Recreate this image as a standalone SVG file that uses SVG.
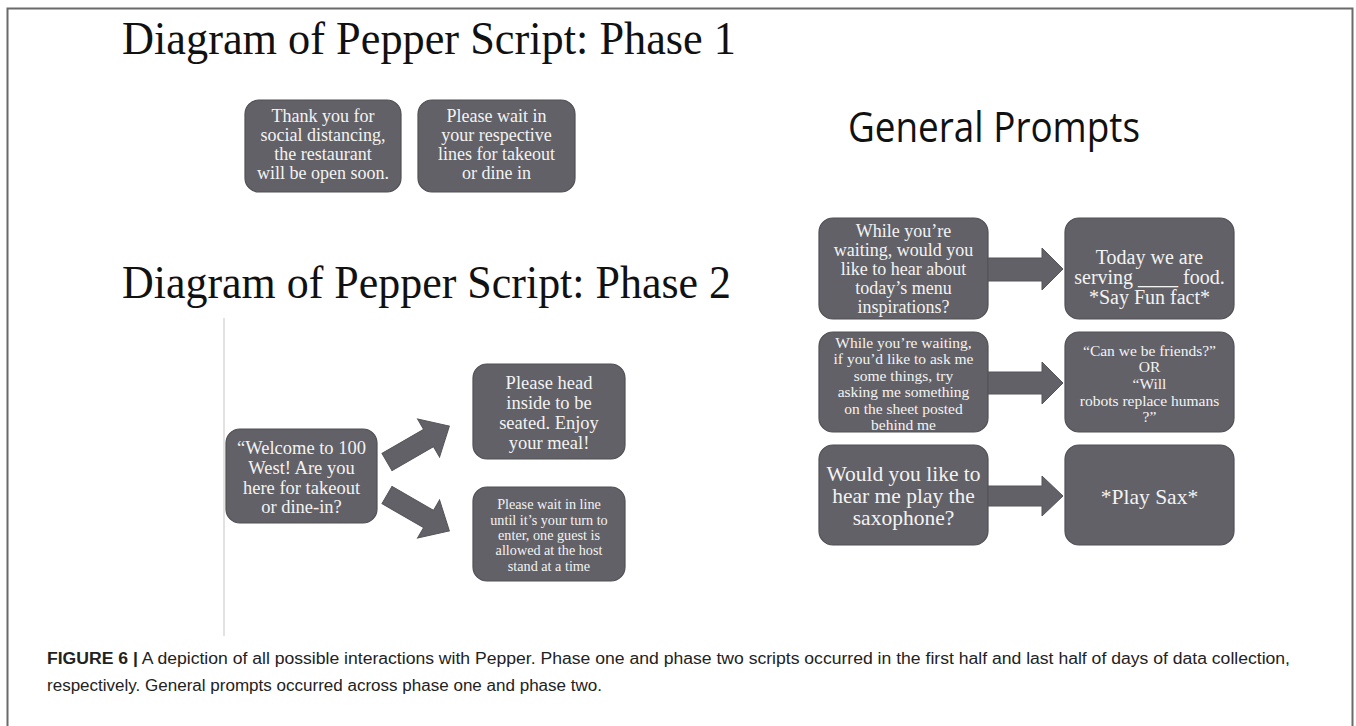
<svg xmlns="http://www.w3.org/2000/svg" width="1356" height="726" viewBox="0 0 1356 726">
<style>
.box{fill:#626167;stroke:#505055;stroke-width:1.2}
.bt{font-family:"Liberation Serif","DejaVu Serif",serif;fill:#f3f3f3;text-anchor:middle}
.arr{fill:#626167;stroke:#55555a;stroke-width:1}
.title{font-family:"Liberation Serif",serif;fill:#111}
.cap{font-family:"Liberation Sans",Arial,sans-serif;fill:#222;font-size:16px}
</style>
<rect width="1356" height="726" fill="#fff"/>
<path d="M7.5,726 V8.5 H1352.5 V726" fill="none" stroke="#6a6a6a" stroke-width="2"/>
<line x1="224" y1="318" x2="224" y2="636" stroke="#e2e2e2" stroke-width="2"/>

<text class="title" x="122" y="54" font-size="46" textLength="614" lengthAdjust="spacingAndGlyphs">Diagram of Pepper Script: Phase 1</text>
<text class="title" x="122" y="298" font-size="46" textLength="609" lengthAdjust="spacingAndGlyphs">Diagram of Pepper Script: Phase 2</text>
<text x="848" y="142" font-family="'Open Sans','Noto Sans',sans-serif" font-size="42" fill="#111" textLength="292" lengthAdjust="spacingAndGlyphs">General Prompts</text>

<g id="p1a">
<rect class="box" x="245" y="100" width="156" height="92" rx="14"/>
<text class="bt" font-size="18"><tspan x="323" y="122">Thank you for</tspan><tspan x="323" y="141">social distancing,</tspan><tspan x="323" y="160">the restaurant</tspan><tspan x="323" y="179">will be open soon.</tspan></text>
</g>
<g id="p1b">
<rect class="box" x="418" y="100" width="157" height="92" rx="14"/>
<text class="bt" font-size="18"><tspan x="496.5" y="122">Please wait in</tspan><tspan x="496.5" y="141">your respective</tspan><tspan x="496.5" y="160">lines for takeout</tspan><tspan x="496.5" y="179">or dine in</tspan></text>
</g>

<g id="p2welcome">
<rect class="box" x="226" y="429" width="151" height="94" rx="14"/>
<text class="bt" font-size="18.5"><tspan x="301.5" y="454">“Welcome to 100</tspan><tspan x="301.5" y="474">West! Are you</tspan><tspan x="301.5" y="494">here for takeout</tspan><tspan x="301.5" y="513">or dine-in?</tspan></text>
</g>
<g id="p2head">
<rect class="box" x="473" y="364" width="152" height="95" rx="14"/>
<text class="bt" font-size="18.5"><tspan x="549" y="389">Please head</tspan><tspan x="549" y="409">inside to be</tspan><tspan x="549" y="429">seated. Enjoy</tspan><tspan x="549" y="449">your meal!</tspan></text>
</g>
<g id="p2wait">
<rect class="box" x="473" y="487" width="152" height="94" rx="14"/>
<text class="bt" font-size="14.2"><tspan x="549" y="509">Please wait in line</tspan><tspan x="549" y="525">until it’s your turn to</tspan><tspan x="549" y="540">enter, one guest is</tspan><tspan x="549" y="555">allowed at the host</tspan><tspan x="549" y="571">stand at a time</tspan></text>
</g>

<g id="g1l">
<rect class="box" x="819" y="218" width="169" height="101" rx="14"/>
<text class="bt" font-size="18"><tspan x="903.5" y="237">While you’re</tspan><tspan x="903.5" y="256">waiting, would you</tspan><tspan x="903.5" y="275">like to hear about</tspan><tspan x="903.5" y="294">today’s menu</tspan><tspan x="903.5" y="313">inspirations?</tspan></text>
</g>
<g id="g1r">
<rect class="box" x="1065" y="218" width="169" height="101" rx="14"/>
<text class="bt" font-size="20"><tspan x="1149.5" y="264">Today we are</tspan><tspan x="1149.5" y="284">serving ____ food.</tspan><tspan x="1149.5" y="304">*Say Fun fact*</tspan></text>
</g>
<g id="g2l">
<rect class="box" x="819" y="332" width="169" height="100" rx="14"/>
<text class="bt" font-size="15.5"><tspan x="903.5" y="348">While you’re waiting,</tspan><tspan x="903.5" y="364">if you’d like to ask me</tspan><tspan x="903.5" y="381">some things, try</tspan><tspan x="903.5" y="397">asking me something</tspan><tspan x="903.5" y="414">on the sheet posted</tspan><tspan x="903.5" y="430">behind me</tspan></text>
</g>
<g id="g2r">
<rect class="box" x="1065" y="332" width="169" height="100" rx="14"/>
<text class="bt" font-size="15.5"><tspan x="1149.5" y="356">“Can we be friends?”</tspan><tspan x="1149.5" y="372">OR</tspan><tspan x="1149.5" y="389">“Will</tspan><tspan x="1149.5" y="406">robots replace humans</tspan><tspan x="1149.5" y="422">?”</tspan></text>
</g>
<g id="g3l">
<rect class="box" x="819" y="445" width="169" height="100" rx="14"/>
<text class="bt" font-size="21.5"><tspan x="903.5" y="481">Would you like to</tspan><tspan x="903.5" y="503">hear me play the</tspan><tspan x="903.5" y="525">saxophone?</tspan></text>
</g>
<g id="g3r">
<rect class="box" x="1065" y="445" width="169" height="100" rx="14"/>
<text class="bt" font-size="21.5"><tspan x="1149.5" y="504">*Play Sax*</tspan></text>
</g>

<g id="connectors">
<polygon class="arr" transform="translate(387,462) rotate(-30)" points="0,-10 48,-10 48,-22 72,0 48,22 48,10 0,10"/>
<polygon class="arr" transform="translate(387,495) rotate(30)" points="0,-10 48,-10 48,-22 72,0 48,22 48,10 0,10"/>
<polygon class="arr" points="988,258 1042,258 1042,248 1063,269 1042,290 1042,281 988,281"/>
<polygon class="arr" points="988,372 1042,372 1042,362 1063,383 1042,404 1042,394 988,394"/>
<polygon class="arr" points="988,486 1042,486 1042,476 1063,496 1042,516 1042,506 988,506"/>
</g>

<text class="cap" x="47" y="664" textLength="1243" lengthAdjust="spacingAndGlyphs"><tspan font-weight="bold">FIGURE 6 |</tspan> A depiction of all possible interactions with Pepper. Phase one and phase two scripts occurred in the first half and last half of days of data collection,</text>
<text class="cap" x="47" y="691" textLength="555" lengthAdjust="spacingAndGlyphs">respectively. General prompts occurred across phase one and phase two.</text>
</svg>
